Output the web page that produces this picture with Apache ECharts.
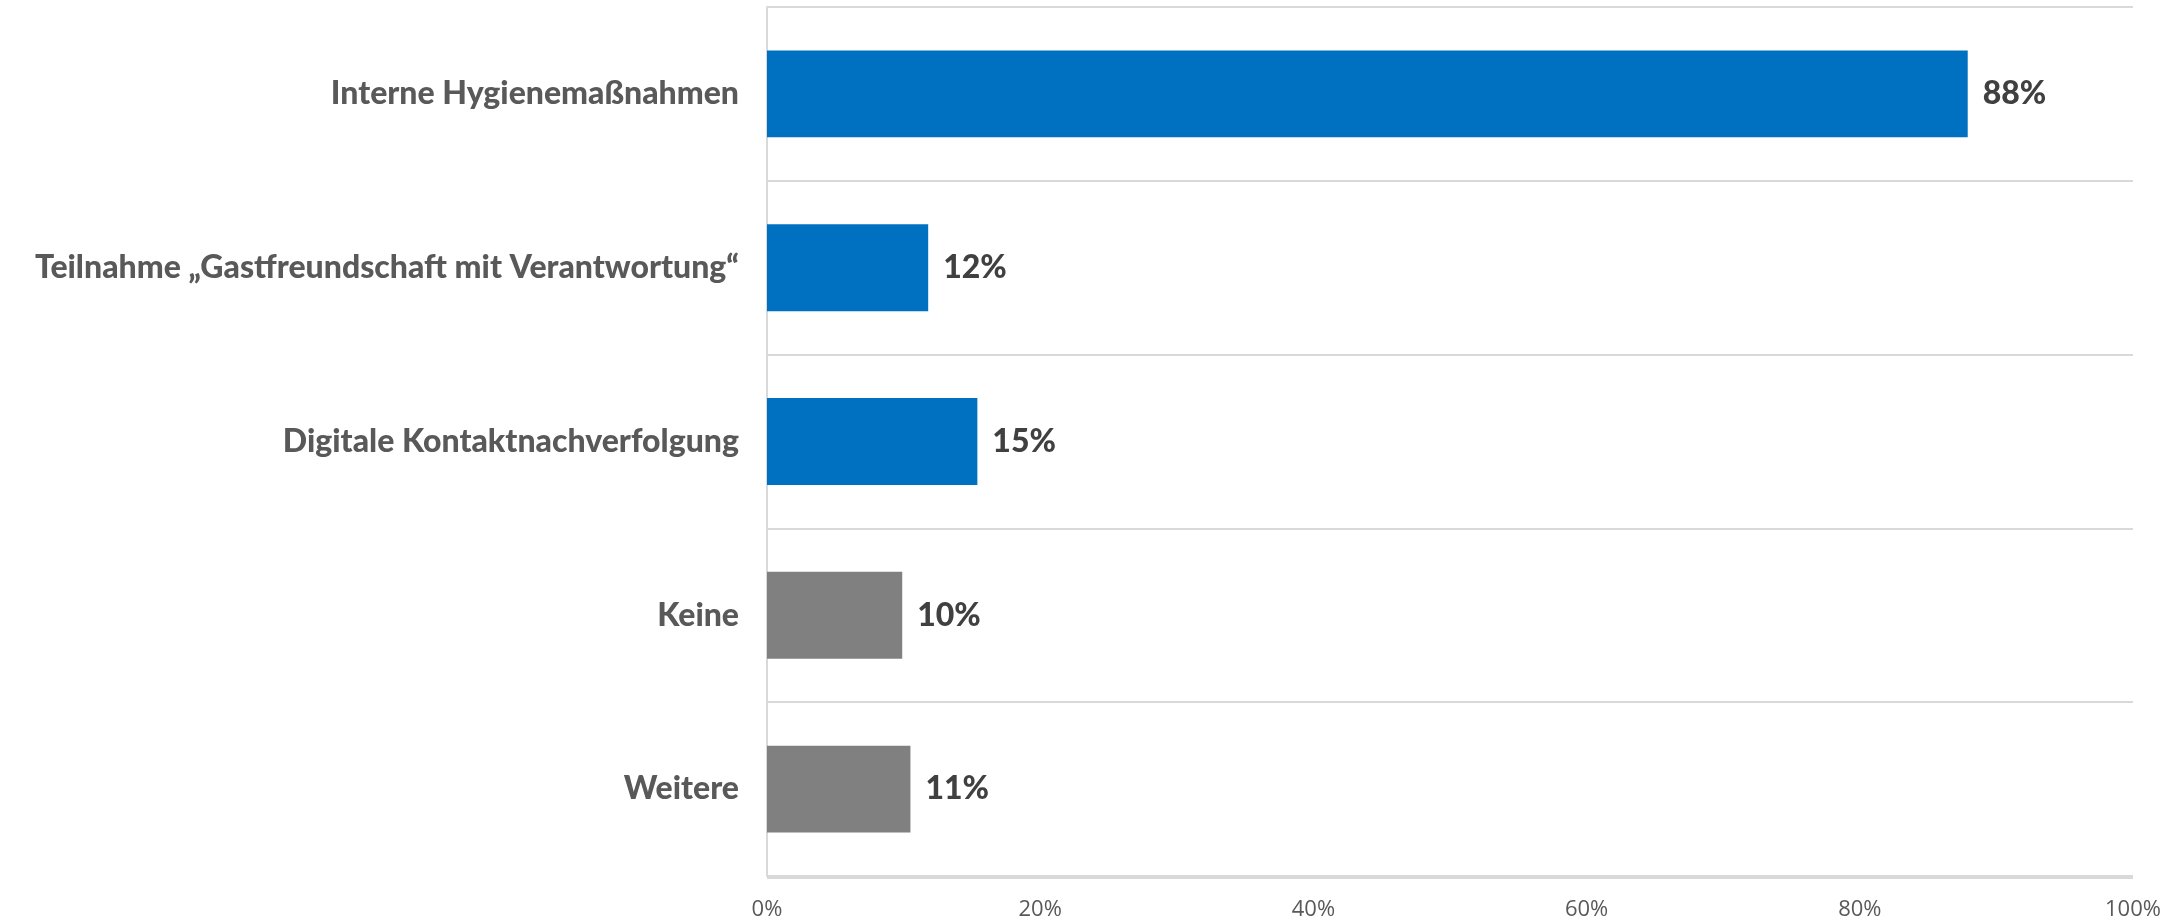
<!DOCTYPE html>
<html>
<head>
<meta charset="utf-8">
<title>Maßnahmen</title>
<script src="https://cdn.jsdelivr.net/npm/echarts@6/dist/echarts.min.js"></script>
<style>
  html, body { margin: 0; padding: 0; background: #ffffff; }
  #main { width: 2179px; height: 921px; }
</style>
</head>
<body>
<div id="main"></div>
<script>
// categories top to bottom
const categories = [
  'Interne Hygienemaßnahmen',
  'Teilnahme \u201EGastfreundschaft mit Verantwortung\u201C',
  'Digitale Kontaktnachverfolgung',
  'Keine',
  'Weitere'
];
// share in percent
const values = [87.9, 11.8, 15.4, 9.9, 10.5];
const barColors = ['#0070C0', '#0070C0', '#0070C0', '#808080', '#808080'];
const xTicks = [0, 20, 40, 60, 80, 100];

const chart = echarts.init(document.getElementById('main'));

const option = {
  animation: false,
  grid: {
    left: 767,
    right: 46,
    top: 7,
    bottom: 43
  },
  xAxis: {
    type: 'value',
    min: xTicks[0],
    max: xTicks[xTicks.length - 1],
    interval: 20,
    axisLine: { show: false },
    axisTick: { show: false },
    splitLine: { show: false },
    axisLabel: {
      formatter: '{value}%',
      color: '#595959',
      fontFamily: 'Open Sans',
      fontSize: 22,
      margin: 23
    }
  },
  yAxis: {
    type: 'category',
    inverse: true,
    data: categories,
    axisLine: { show: true, lineStyle: { color: '#d9d9d9', width: 2 } },
    axisTick: { show: false },
    splitLine: { show: true, lineStyle: { color: '#d9d9d9', width: 2 } },
    axisLabel: {
      color: '#595959',
      fontFamily: 'Lato',
      fontWeight: 900,
      fontSize: 32,
      margin: 28
    }
  },
  series: [{
    type: 'bar',
    data: values.map((v, i) => ({ value: v, itemStyle: { color: barColors[i] } })),
    barCategoryGap: '50%',
    label: {
      show: true,
      position: 'right',
      distance: 15,
      formatter: p => Math.round(p.value) + '%',
      color: '#404040',
      fontFamily: 'Lato',
      fontWeight: 900,
      fontSize: 32
    }
  }],
  graphic: [
    // top and bottom frame lines of the plot area
    { type: 'line', shape: { x1: 767, y1: 7, x2: 2133, y2: 7 }, style: { stroke: '#d9d9d9', lineWidth: 2 } },
    { type: 'line', shape: { x1: 767, y1: 878, x2: 2133, y2: 878 }, style: { stroke: '#d9d9d9', lineWidth: 2 } }
  ]
};

chart.setOption(option);
</script>
</body>
</html>
